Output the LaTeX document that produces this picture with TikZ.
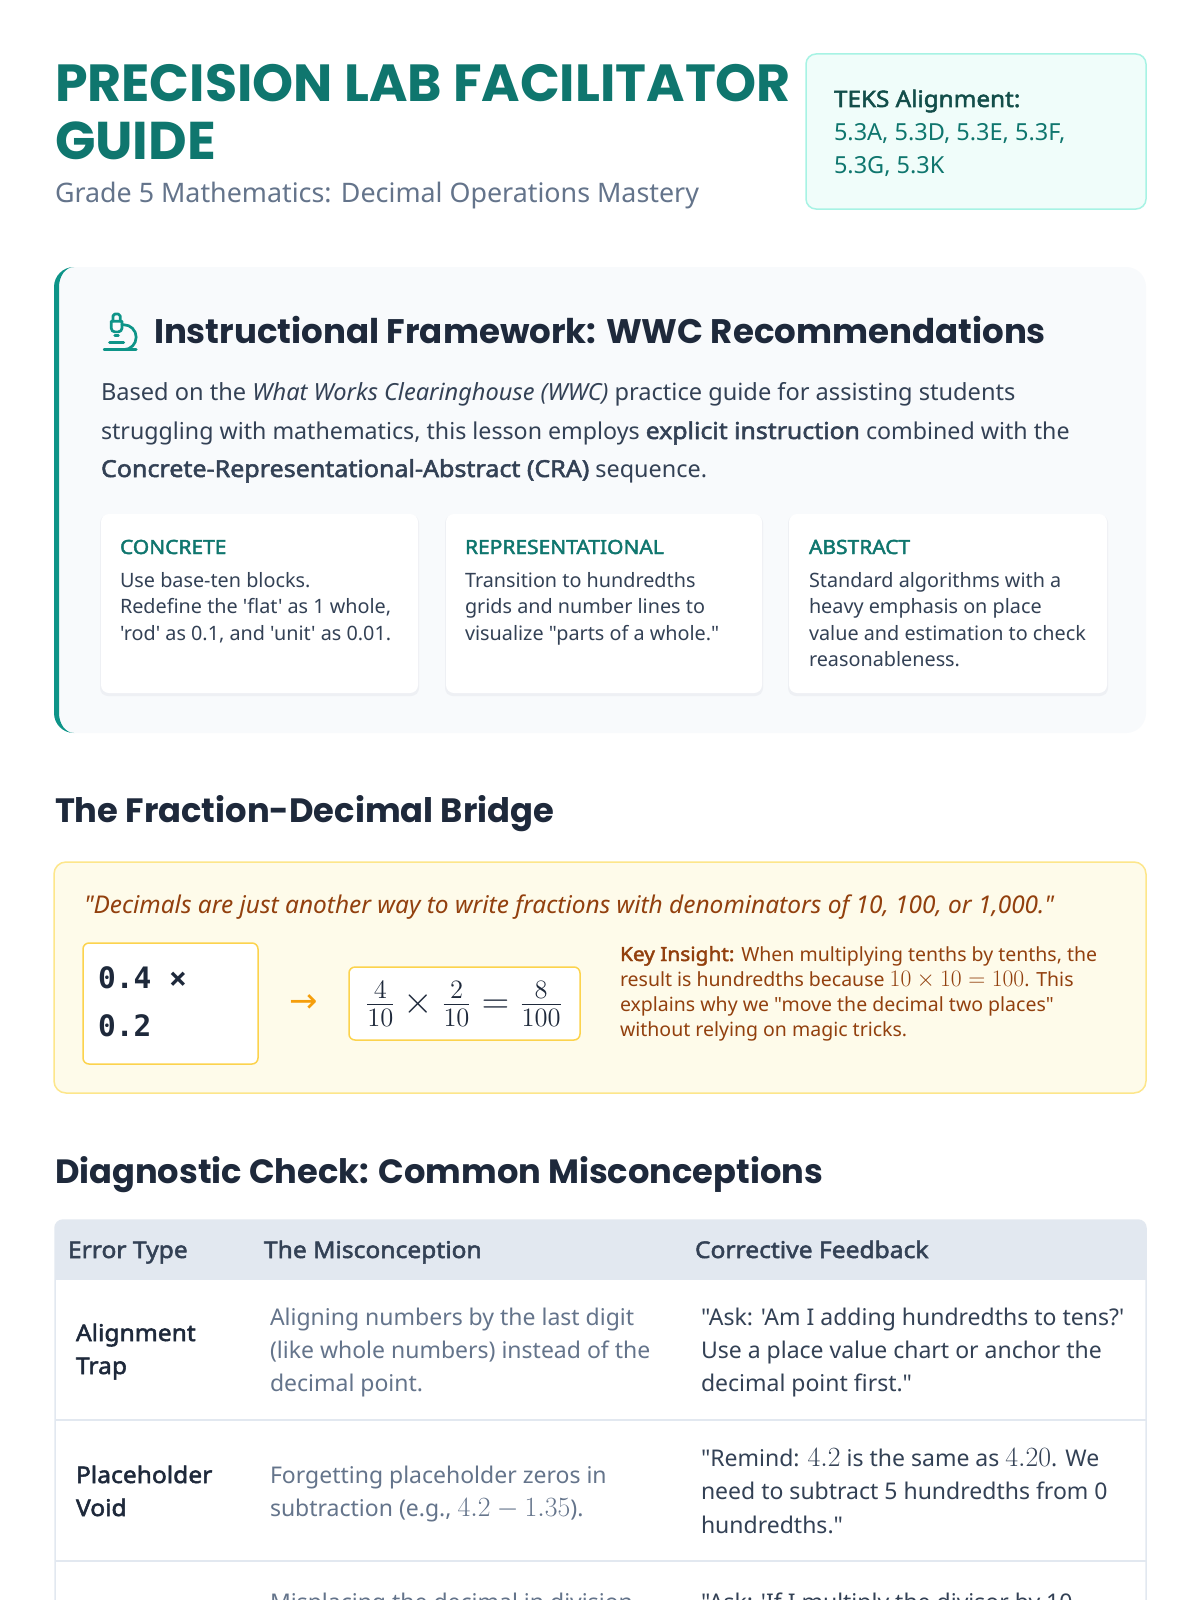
\RequirePackage{fix-cm}
\documentclass[tikz,border=0pt]{standalone}
\usepackage{fontspec}
\usepackage{graphicx}
\newfontfamily\bodyfont{Noto Sans}[BoldFont={Noto Sans}, BoldFeatures={FakeBold=2.2, FakeStretch=1.07}]
\newfontfamily\headfont{Poppins}
\newfontfamily\monofont{DejaVu Sans Mono}
\newfontfamily\symfont{DejaVu Sans}
\definecolor{titleteal}{HTML}{0F766E}
\definecolor{accteal}{HTML}{0D9488}
\definecolor{tekfill}{HTML}{F0FDFA}
\definecolor{tekborder}{HTML}{A7F3E4}
\definecolor{tekdark}{HTML}{134E4A}
\definecolor{panelfill}{HTML}{F8FAFC}
\definecolor{headdark}{HTML}{1E293B}
\definecolor{slatesev}{HTML}{334155}
\definecolor{slatefive}{HTML}{64748B}
\definecolor{amberfill}{HTML}{FEFBEA}
\definecolor{amberborder}{HTML}{FDE68A}
\definecolor{amberthree}{HTML}{FCD34D}
\definecolor{browntext}{HTML}{92400E}
\definecolor{orangearrow}{HTML}{F59E0B}
\definecolor{tablehead}{HTML}{E2E8F0}
\definecolor{tableline}{HTML}{E2E8F0}
\definecolor{cardshadow}{HTML}{EEF0F4}
\newcommand\fsz[2]{\fontsize{#1}{#2}\selectfont}
\newcommand\km[1]{\scalebox{1.21}{$#1$}}
\tikzset{
  txt/.style={anchor=base west, inner sep=0pt, outer sep=0pt, font=\bodyfont},
  cardbox/.style={fill=white, rounded corners=8pt},
  cardshade/.style={fill=cardshadow, rounded corners=8pt},
  amberbox/.style={fill=white, draw=amberthree, line width=1.5pt, rounded corners=6pt},
  rowline/.style={draw=tableline, line width=1.5pt},
  icon/.style={draw=accteal, line width=2.7pt, line cap=round, line join=round}
}
\begin{document}
\begin{tikzpicture}[x=1pt,y=-1pt]
\useasboundingbox (0,0) rectangle (1200,1600);
\clip (0,0) rectangle (1200,1600);
\fill[white] (0,0) rectangle (1200,1600);

% ---------- header ----------
\node[txt, text=titleteal] (title1) at (55,102) {\resizebox{736pt}{!}{\headfont\bfseries\fsz{50}{50}PRECISION LAB FACILITATOR}};
\node[txt, text=titleteal] (title2) at (55,160) {\resizebox{161pt}{!}{\headfont\bfseries\fsz{50}{50}GUIDE}};
\node[txt, text=slatefive] (subtitle) at (55,202) {\resizebox{644pt}{!}{\fsz{26}{30}Grade 5 Mathematics: Decimal Operations Mastery}};

\draw[fill=tekfill, draw=tekborder, line width=1.5pt, rounded corners=10pt] (806,54) rectangle (1146,209);
\node[txt, text=tekdark] (teks1) at (834,107) {\fsz{22.7}{32}\bfseries TEKS Alignment:};
\node[txt, text=titleteal] (teks2) at (834,141) {\fsz{23.5}{32}5.3A, 5.3D, 5.3E, 5.3F,};
\node[txt, text=titleteal] (teks3) at (834,173) {\fsz{23.5}{32}5.3G, 5.3K};

% ---------- framework panel ----------
\fill[panelfill, rounded corners=20pt] (54,267) rectangle (1146,733);
\fill[accteal] (74,267) arc[start angle=270, end angle=180, radius=20]
  -- (54,713) arc[start angle=180, end angle=90, radius=20]
  arc[start angle=90, end angle=180, x radius=15, y radius=20]
  -- (59,287) arc[start angle=180, end angle=270, x radius=15, y radius=20] -- cycle;

% microscope icon (24-unit grid)
\begin{scope}[shift={(98.8,310.5)}, x=1.78pt, y=-1.78pt]
  \draw[icon] (6,18) -- (14,18);
  \draw[icon] (3,22) -- (21,22);
  \draw[icon] (14,22) arc[start angle=90, end angle=-90, radius=7] -- (13,8);
  \draw[icon] (9,14) -- (11,14);
  \draw[icon] (9,12) arc[start angle=90, end angle=180, radius=2] -- (7,6) -- (13,6) -- (13,10) arc[start angle=0, end angle=90, radius=2] -- cycle;
  \draw[icon, rounded corners=1.78pt] (12,6) -- (12,2) -- (8,2) -- (8,6);
\end{scope}

\node[txt, text=headdark] (fwhead) at (154,343) {\resizebox{892pt}{!}{\headfont\bfseries\fsz{36}{40}Instructional Framework: WWC Recommendations}};

\node[txt, text=slatesev] (para1) at (101,400) {\fsz{23.6}{38}Based on the \textit{What Works Clearinghouse (WWC)} practice guide for assisting students};
\node[txt, text=slatesev] (para2) at (101,439) {\fsz{23.2}{38}struggling with mathematics, this lesson employs \textbf{explicit instruction} combined with the};
\node[txt, text=slatesev] (para3) at (101,477) {\fsz{23.4}{38}\textbf{Concrete-Representational-Abstract (CRA)} sequence.};

% cards
\fill[cardshade] (100,515) rectangle (419,696);
\fill[cardbox] (101,514) rectangle (418,693);
\fill[cardshade] (445,515) rectangle (763,696);
\fill[cardbox] (446,514) rectangle (762,693);
\fill[cardshade] (788,515) rectangle (1108,696);
\fill[cardbox] (789,514) rectangle (1107,693);

\node[txt, text=titleteal] (c1t) at (120,554) {\fsz{19.6}{26}\bfseries CONCRETE};
\node[txt, text=slatesev] (c1a) at (120,587) {\fsz{19.8}{26}Use base-ten blocks.};
\node[txt, text=slatesev] (c1b) at (120,613) {\fsz{19.8}{26}Redefine the 'flat' as 1 whole,};
\node[txt, text=slatesev] (c1c) at (120,640) {\fsz{19.8}{26}'rod' as 0.1, and 'unit' as 0.01.};

\node[txt, text=titleteal] (c2t) at (465,554) {\fsz{19.6}{26}\bfseries REPRESENTATIONAL};
\node[txt, text=slatesev] (c2a) at (465,587) {\fsz{19.8}{26}Transition to hundredths};
\node[txt, text=slatesev] (c2b) at (465,613) {\fsz{19.8}{26}grids and number lines to};
\node[txt, text=slatesev] (c2c) at (465,640) {\fsz{19.8}{26}visualize "parts of a whole."};

\node[txt, text=titleteal] (c3t) at (809,554) {\fsz{19.6}{26}\bfseries ABSTRACT};
\node[txt, text=slatesev] (c3a) at (809,587) {\fsz{19.8}{26}Standard algorithms with a};
\node[txt, text=slatesev] (c3b) at (809,613) {\fsz{19.8}{26}heavy emphasis on place};
\node[txt, text=slatesev] (c3c) at (809,640) {\fsz{19.8}{26}value and estimation to check};
\node[txt, text=slatesev] (c3d) at (809,666) {\fsz{19.8}{26}reasonableness.};

% ---------- fraction-decimal bridge ----------
\node[txt, text=headdark] (bridgehead) at (55,822) {\resizebox{499pt}{!}{\headfont\bfseries\fsz{32}{36}The Fraction-Decimal Bridge}};

\draw[fill=amberfill, draw=amberborder, line width=1.5pt, rounded corners=12pt] (54,862) rectangle (1146,1093);
\node[txt, text=browntext] (quote) at (84,913) {\resizebox{970pt}{!}{\fsz{23}{30}\itshape "Decimals are just another way to write fractions with denominators of 10, 100, or 1,000."}};

\draw[amberbox] (83,943) rectangle (258,1064);
\node[txt, text=headdark] (mono1) at (98,988) {\monofont\bfseries\fsz{29.5}{46}0.4 ×};
\node[txt, text=headdark] (mono2) at (98,1036) {\monofont\bfseries\fsz{29.5}{46}0.2};

\node[anchor=center, inner sep=0pt, text=orangearrow] (arrow) at (304,1004) {\symfont\fsz{34}{34}→};

\draw[amberbox] (349,967) rectangle (580,1040);
\node[anchor=center, inner sep=0pt, text=headdark] (frac) at (464,1004) {\resizebox{197pt}{!}{\fsz{24}{30}$\frac{4}{10}\times\frac{2}{10}=\frac{8}{100}$}};

\node[txt, text=browntext] (key1) at (620,961) {\fsz{19.5}{25}\textbf{Key Insight:} When multiplying tenths by tenths, the};
\node[txt, text=browntext] (key2) at (620,986) {\fsz{19.5}{25}result is hundredths because \km{10\times10=100}. This};
\node[txt, text=browntext] (key3) at (620,1011) {\fsz{19.5}{25}explains why we "move the decimal two places"};
\node[txt, text=browntext] (key4) at (620,1036) {\fsz{19.5}{25}without relying on magic tricks.};

% ---------- diagnostic table ----------
\node[txt, text=headdark] (diaghead) at (55,1183) {\resizebox{768pt}{!}{\headfont\bfseries\fsz{32}{36}Diagnostic Check: Common Misconceptions}};

\begin{scope}
  \clip[rounded corners=8pt] (55,1220) rectangle (1146,1700);
  \fill[tablehead] (55,1220) rectangle (1146,1280);
\end{scope}
\draw[rowline, rounded corners=8pt] (55,1700) -- (55,1220) -- (1146,1220) -- (1146,1700);
\draw[rowline] (55,1420) -- (1146,1420);
\draw[rowline] (55,1561) -- (1146,1561);

\node[txt, text=slatesev] (h1) at (68,1258) {\fsz{23}{30}\bfseries Error Type};
\node[txt, text=slatesev] (h2) at (264,1258) {\fsz{23}{30}\bfseries The Misconception};
\node[txt, text=slatesev] (h3) at (695,1258) {\fsz{23}{30}\bfseries Corrective Feedback};

\node[txt, text=headdark] (r1a) at (76,1341) {\fsz{23}{33}\bfseries Alignment};
\node[txt, text=headdark] (r1b) at (76,1374) {\fsz{23}{33}\bfseries Trap};
\node[txt, text=slatefive] (r1m1) at (270,1325) {\fsz{23}{33}Aligning numbers by the last digit};
\node[txt, text=slatefive] (r1m2) at (270,1358) {\fsz{23}{33}(like whole numbers) instead of the};
\node[txt, text=slatefive] (r1m3) at (270,1391) {\fsz{23}{33}decimal point.};
\node[txt, text=slatesev] (r1f1) at (701,1325) {\fsz{23}{33}"Ask: 'Am I adding hundredths to tens?'};
\node[txt, text=slatesev] (r1f2) at (701,1358) {\fsz{23}{33}Use a place value chart or anchor the};
\node[txt, text=slatesev] (r1f3) at (701,1391) {\fsz{23}{33}decimal point first."};

\node[txt, text=headdark] (r2a) at (76,1483) {\fsz{23}{33}\bfseries Placeholder};
\node[txt, text=headdark] (r2b) at (76,1516) {\fsz{23}{33}\bfseries Void};
\node[txt, text=slatefive] (r2m1) at (270,1483) {\fsz{23}{33}Forgetting placeholder zeros in};
\node[txt, text=slatefive] (r2m2) at (270,1516) {\fsz{23}{33}subtraction (e.g., \km{4.2-1.35}).};
\node[txt, text=slatesev] (r2f1) at (701,1466) {\fsz{23}{33}"Remind: \km{4.2} is the same as \km{4.20}. We};
\node[txt, text=slatesev] (r2f2) at (701,1499) {\fsz{23}{33}need to subtract 5 hundredths from 0};
\node[txt, text=slatesev] (r2f3) at (701,1533) {\fsz{23}{33}hundredths."};

\node[txt, text=slatefive] (r3m1) at (270,1610) {\fsz{23}{33}Misplacing the decimal in division};
\node[txt, text=slatesev] (r3f1) at (701,1610) {\fsz{23}{33}"Ask: 'If I multiply the divisor by 10,};
\end{tikzpicture}
\end{document}
